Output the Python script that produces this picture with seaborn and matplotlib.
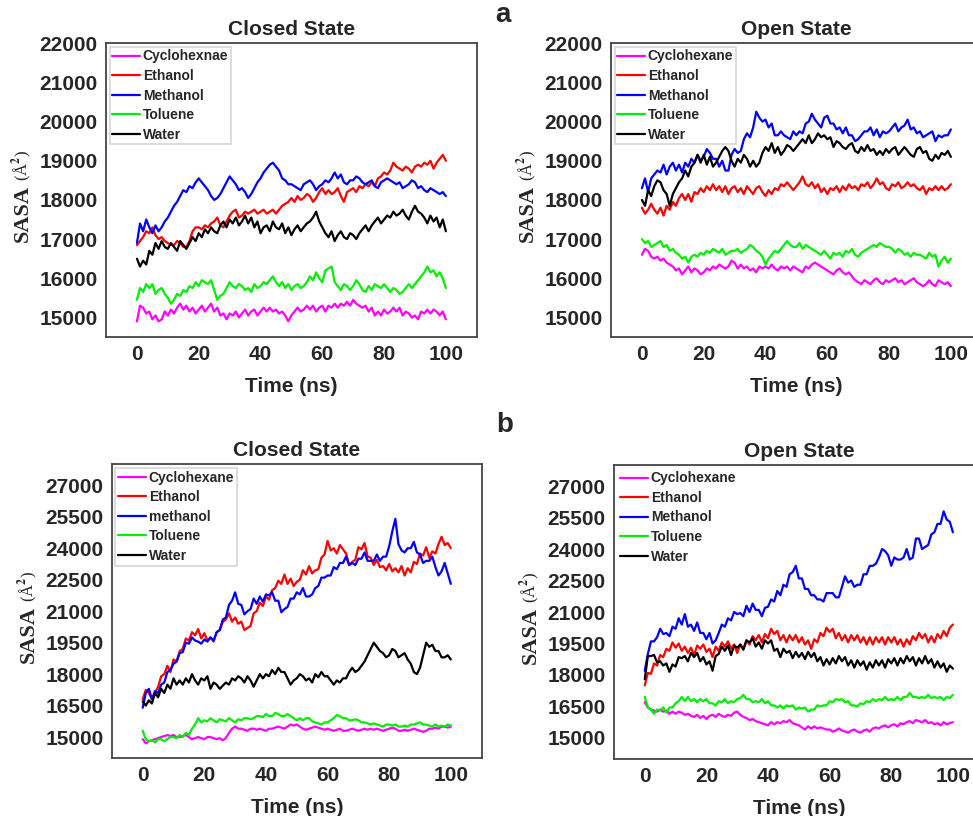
import pandas as pd
import seaborn as sns
import matplotlib.pyplot as plt

# time axis, 1 ns sampling
time_ns = list(range(101))

colors = ['#ff00ff', '#ff0000', '#0000ff', '#00ee00', '#000000']

# ---- panel a, closed state (Å^2) ----
a_closed_cyc = [14900, 15300, 15250, 15100, 15150, 14950, 15050, 14900, 14950, 15150,
                15050, 15200, 15100, 15250, 15350, 15200, 15300, 15150, 15250, 15100,
                15200, 15300, 15150, 15250, 15350, 15150, 15250, 15050, 15100, 14950,
                15100, 15050, 15150, 15000, 15100, 15200, 15050, 15150, 15200, 15050,
                15150, 15250, 15150, 15250, 15150, 15200, 15100, 15150, 15050, 14900,
                15050, 15150, 15250, 15150, 15200, 15300, 15200, 15300, 15150, 15250,
                15300, 15150, 15300, 15250, 15350, 15250, 15350, 15300, 15400, 15300,
                15450, 15350, 15300, 15250, 15300, 15150, 15250, 15050, 15150, 15050,
                15200, 15100, 15150, 15250, 15150, 15250, 15050, 15150, 15100, 15000,
                15050, 14950, 15150, 15100, 15200, 15100, 15200, 15150, 15050, 15150,
                14950]
a_closed_eth = [16850, 16950, 17050, 17200, 17150, 17300, 17100, 17000, 17050, 16950,
                16900, 16850, 16850, 16950, 16900, 16800, 16800, 16950, 17200, 17300,
                17300, 17250, 17350, 17300, 17400, 17450, 17550, 17350, 17300, 17450,
                17600, 17700, 17750, 17550, 17600, 17700, 17650, 17700, 17750, 17650,
                17700, 17750, 17650, 17700, 17750, 17650, 17750, 17850, 17900, 17950,
                18050, 17950, 18100, 18000, 18050, 18150, 18100, 17950, 18050, 18200,
                18300, 18150, 18250, 18150, 18200, 18300, 18100, 17950, 18200, 18250,
                18300, 18200, 18350, 18300, 18400, 18350, 18450, 18350, 18550, 18600,
                18700, 18650, 18750, 18950, 18850, 18800, 18750, 18850, 18800, 18700,
                18850, 18900, 18850, 18950, 18900, 19000, 18800, 18950, 19050, 19150,
                19000]
a_closed_met = [16900, 17400, 17200, 17500, 17300, 17150, 17350, 17200, 17300, 17450,
                17550, 17700, 17850, 17950, 18100, 18250, 18200, 18350, 18300, 18450,
                18550, 18450, 18350, 18250, 18100, 18000, 18050, 18150, 18300, 18450,
                18600, 18500, 18400, 18250, 18300, 18200, 18050, 18150, 18300, 18450,
                18550, 18700, 18800, 18900, 18950, 18850, 18750, 18550, 18500, 18400,
                18400, 18350, 18300, 18250, 18400, 18450, 18500, 18400, 18250, 18350,
                18400, 18500, 18450, 18550, 18700, 18550, 18650, 18450, 18400, 18500,
                18500, 18600, 18550, 18450, 18400, 18450, 18500, 18350, 18300, 18450,
                18500, 18550, 18500, 18450, 18400, 18450, 18300, 18350, 18400, 18500,
                18450, 18300, 18350, 18250, 18200, 18300, 18250, 18200, 18150, 18200,
                18100]
a_closed_tol = [15450, 15750, 15650, 15850, 15750, 15850, 15600, 15700, 15750, 15600,
                15500, 15350, 15450, 15600, 15550, 15700, 15650, 15800, 15750, 15900,
                15800, 15950, 15900, 15850, 15950, 15700, 15450, 15550, 15600, 15750,
                15900, 15800, 15750, 15850, 15800, 15700, 15750, 15650, 15850, 15750,
                15800, 15900, 15850, 15950, 16050, 15900, 15800, 15900, 15750, 15850,
                15700, 15800, 15850, 15750, 15800, 15900, 16050, 15950, 16150, 16000,
                15900, 16200, 16250, 16300, 15900, 15800, 15700, 15850, 15800, 15700,
                15800, 15950, 15850, 15700, 15650, 15800, 15700, 15850, 15800, 15750,
                15850, 15750, 15650, 15750, 15700, 15600, 15650, 15750, 15850, 15750,
                15850, 15950, 16050, 16150, 16300, 16150, 16200, 16050, 16150, 16000,
                15750]
a_closed_wat = [16500, 16300, 16450, 16350, 16700, 16600, 16900, 16750, 16950, 16800,
                16750, 16900, 16800, 16700, 16950, 16850, 16750, 16900, 17050, 16950,
                17150, 17050, 17250, 17150, 17300, 17200, 17150, 17350, 17450, 17300,
                17500, 17400, 17550, 17350, 17450, 17600, 17400, 17550, 17300, 17450,
                17150, 17300, 17350, 17200, 17450, 17300, 17250, 17400, 17150, 17300,
                17100, 17250, 17350, 17200, 17300, 17400, 17450, 17550, 17700, 17450,
                17300, 17150, 17050, 17200, 16950, 17100, 17200, 17050, 17000, 17150,
                17100, 17000, 17150, 17250, 17350, 17200, 17350, 17450, 17550, 17400,
                17500, 17600, 17550, 17700, 17600, 17650, 17750, 17600, 17500, 17700,
                17850, 17700, 17650, 17550, 17400, 17600, 17450, 17550, 17300, 17500,
                17200]

# ---- panel a, open state ----
a_open_cyc = [16600, 16750, 16700, 16550, 16500, 16550, 16450, 16500, 16400, 16350,
              16300, 16200, 16250, 16100, 16200, 16300, 16150, 16250, 16200, 16100,
              16150, 16250, 16200, 16300, 16250, 16350, 16300, 16250, 16300, 16450,
              16400, 16250, 16350, 16250, 16300, 16200, 16250, 16150, 16300, 16250,
              16300, 16250, 16350, 16250, 16200, 16300, 16250, 16300, 16200, 16300,
              16250, 16200, 16150, 16300, 16250, 16350, 16400, 16350, 16300, 16250,
              16200, 16150, 16100, 16200, 16250, 16150, 16100, 16150, 16050, 15950,
              15900, 15850, 15950, 15900, 15850, 15950, 16000, 15900, 15850, 15950,
              15900, 15950, 16000, 15900, 15950, 15850, 15900, 15950, 16000, 15900,
              15850, 15800, 15850, 15950, 15850, 15800, 15950, 15900, 15850, 15900,
              15800]
a_open_eth = [17800, 17650, 17750, 17900, 17750, 17650, 17800, 17600, 17850, 17750,
              17950, 17850, 18050, 18150, 18000, 18150, 17950, 18200, 18150, 18300,
              18200, 18350, 18250, 18400, 18250, 18350, 18200, 18350, 18150, 18300,
              18350, 18200, 18300, 18150, 18350, 18250, 18150, 18300, 18350, 18200,
              18100, 18250, 18150, 18300, 18250, 18400, 18350, 18450, 18350, 18250,
              18350, 18450, 18600, 18400, 18350, 18450, 18300, 18400, 18200, 18300,
              18150, 18300, 18250, 18350, 18200, 18350, 18250, 18400, 18300, 18350,
              18250, 18400, 18350, 18450, 18300, 18400, 18550, 18400, 18450, 18300,
              18250, 18400, 18350, 18450, 18300, 18350, 18450, 18350, 18400, 18300,
              18250, 18350, 18150, 18300, 18250, 18350, 18250, 18350, 18250, 18300,
              18400]
a_open_met = [18300, 18550, 18200, 18550, 18650, 18750, 18700, 18900, 18650, 18850,
              18950, 18750, 18900, 18700, 18950, 18850, 19050, 18950, 19150, 19000,
              19100, 19300, 19200, 19050, 19050, 18850, 19000, 18750, 18750, 19150,
              19300, 19200, 19250, 19550, 19700, 19600, 19850, 20250, 20100, 20000,
              20050, 19850, 19950, 19650, 19650, 19750, 19650, 19600, 19550, 19750,
              19650, 19750, 19700, 19950, 20000, 20200, 20050, 19950, 19850, 20100,
              20150, 19950, 19950, 19800, 19850, 19700, 19850, 19650, 19650, 19500,
              19550, 19650, 19750, 19750, 19850, 19650, 19800, 19600, 19750, 19700,
              19750, 19850, 19950, 19750, 19850, 19900, 20050, 19800, 19850, 19700,
              19750, 19600, 19650, 19700, 19750, 19500, 19650, 19600, 19650, 19650,
              19800]
a_open_tol = [17000, 16900, 16950, 16800, 16850, 16900, 16950, 16800, 16850, 16700,
              16750, 16650, 16600, 16500, 16550, 16400, 16550, 16600, 16550, 16650,
              16600, 16700, 16650, 16750, 16700, 16650, 16750, 16600, 16650, 16700,
              16700, 16750, 16650, 16700, 16750, 16850, 16800, 16700, 16650, 16550,
              16350, 16500, 16600, 16700, 16650, 16750, 16850, 16950, 16850, 16800,
              16800, 16900, 16750, 16850, 16800, 16750, 16700, 16650, 16600, 16700,
              16600, 16500, 16650, 16600, 16650, 16550, 16700, 16650, 16750, 16600,
              16550, 16650, 16700, 16750, 16800, 16850, 16800, 16900, 16850, 16800,
              16800, 16750, 16650, 16750, 16700, 16600, 16650, 16550, 16650, 16600,
              16600, 16550, 16500, 16650, 16550, 16600, 16300, 16450, 16550, 16400,
              16500]
a_open_wat = [18000, 17850, 18250, 18100, 18350, 18500, 18450, 18250, 18150, 17850,
              18150, 18300, 18450, 18550, 18750, 18600, 18850, 18950, 19150, 18950,
              19150, 18900, 19100, 18850, 18950, 19100, 19250, 19350, 19250, 19000,
              18850, 19050, 18950, 19150, 19050, 18850, 19000, 18850, 18950, 19200,
              19350, 19250, 19450, 19200, 19350, 19150, 19250, 19400, 19350, 19250,
              19350, 19450, 19550, 19450, 19650, 19450, 19550, 19700, 19600, 19650,
              19550, 19600, 19350, 19500, 19450, 19350, 19300, 19400, 19450, 19250,
              19200, 19350, 19250, 19400, 19250, 19300, 19150, 19250, 19150, 19300,
              19200, 19300, 19350, 19150, 19250, 19350, 19250, 19150, 19100, 19300,
              19350, 19200, 19250, 19050, 19000, 19150, 19050, 19200, 19150, 19250,
              19100]

# ---- panel b, closed state ----
b_closed_cyc = [14900, 14700, 14800, 14850, 14900, 14950, 15000, 15050, 15100, 15050,
                15100, 15000, 15000, 15050, 15100, 15000, 14900, 14950, 15000, 14950,
                14900, 15000, 15000, 14950, 14900, 14950, 14850, 14950, 15200, 15400,
                15500, 15400, 15400, 15350, 15300, 15400, 15400, 15350, 15400, 15350,
                15300, 15400, 15400, 15450, 15500, 15450, 15400, 15500, 15600, 15550,
                15600, 15500, 15400, 15350, 15400, 15450, 15500, 15450, 15400, 15350,
                15400, 15350, 15300, 15350, 15400, 15300, 15300, 15350, 15400, 15350,
                15300, 15350, 15400, 15350, 15400, 15350, 15400, 15350, 15300, 15350,
                15400, 15450, 15400, 15300, 15300, 15350, 15300, 15350, 15400, 15350,
                15300, 15250, 15300, 15400, 15400, 15450, 15400, 15500, 15500, 15450,
                15500]
b_closed_eth = [16800, 17250, 17100, 16800, 17100, 17400, 17900, 18000, 18400, 18100,
                18700, 18600, 19100, 19200, 19700, 19600, 20000, 19850, 20150, 19700,
                19950, 19600, 19750, 19550, 20000, 20100, 20500, 20600, 20900, 20500,
                20700, 20400, 20500, 20100, 20200, 20300, 20900, 21000, 21400, 21250,
                21700, 21550, 22000, 22100, 22450, 22300, 22750, 22300, 22550, 22200,
                22400, 22500, 22950, 22750, 23150, 22800, 22950, 23000, 23550, 23700,
                24350, 23900, 24000, 23750, 24150, 23950, 23750, 23200, 23350, 23450,
                24050, 23950, 24250, 23600, 23550, 23200, 23450, 23100, 23150, 22950,
                23250, 22900, 23050, 22850, 23150, 22700, 23050, 22850, 23350, 23250,
                23750, 23650, 24050, 23550, 23850, 23750, 24200, 24550, 24150, 24250,
                24000]
b_closed_met = [16400, 17100, 17300, 16800, 17200, 17100, 17500, 17600, 18100, 18200,
                18500, 18600, 19000, 19050, 19500, 19450, 19750, 19600, 19550, 19450,
                19650, 19550, 19750, 19600, 20000, 20100, 20600, 20700, 21300, 21500,
                21900, 21350, 21300, 20850, 21000, 21100, 21600, 21350, 21700, 21450,
                21800, 21750, 21900, 21500, 21500, 20950, 21100, 21200, 21600, 21600,
                21900, 21800, 22100, 21700, 21700, 21800, 22100, 22200, 22600, 22600,
                22700, 22700, 23100, 23000, 23300, 23300, 23600, 23200, 23300, 23200,
                23500, 23500, 23800, 23400, 23400, 23400, 23700, 23400, 23600, 23600,
                24100, 24800, 25400, 24200, 23900, 23800, 24000, 24000, 24300, 23800,
                23700, 23300, 23400, 23400, 23600, 23100, 22700, 22900, 23300, 22800,
                22300]
b_closed_tol = [15300, 14900, 14800, 14850, 14750, 14900, 14900, 14800, 14900, 15000,
                15000, 14950, 15100, 15000, 15200, 15100, 15400, 15600, 15900, 15700,
                15800, 15750, 15900, 15800, 15700, 15850, 15800, 15750, 15900, 15800,
                15700, 15850, 15800, 15900, 15900, 15850, 15900, 16000, 16000, 15950,
                16100, 16000, 16000, 16150, 16100, 16000, 16000, 16100, 16000, 15900,
                15800, 15900, 15800, 15900, 15900, 15750, 15700, 15650, 15600, 15700,
                15700, 15800, 15900, 16050, 16000, 15900, 15900, 15800, 15800, 15850,
                15800, 15700, 15700, 15650, 15600, 15650, 15600, 15550, 15500, 15600,
                15600, 15550, 15600, 15500, 15500, 15550, 15500, 15600, 15600, 15650,
                15700, 15600, 15600, 15550, 15500, 15600, 15500, 15550, 15500, 15600,
                15550]
b_closed_wat = [16700, 16500, 16750, 16600, 17100, 16900, 17300, 17100, 17500, 17300,
                17800, 17500, 17700, 17500, 17800, 17600, 18000, 17700, 17500, 17800,
                17700, 17900, 17300, 17600, 17500, 17300, 17450, 17600, 17500, 17800,
                17700, 17900, 17800, 17600, 17900, 17700, 17400, 17700, 18000, 17800,
                18000, 17900, 18200, 18000, 18300, 18100, 18100, 17800, 17500, 17700,
                17800, 18000, 17900, 17700, 17800, 17600, 18000, 17850, 18100, 17900,
                17900, 17700, 17500, 17700, 17600, 17800, 17800, 18100, 18300, 18100,
                18200, 18400, 18600, 18900, 19200, 19500, 19300, 19100, 19000, 18800,
                18900, 19200, 19100, 18800, 18900, 19000, 18700, 18500, 18100, 18000,
                18300, 18900, 19500, 19300, 19400, 19100, 19100, 18800, 18800, 18900,
                18700]

# ---- panel b, open state ----
b_open_cyc = [16700, 16450, 16350, 16300, 16250, 16350, 16250, 16300, 16150, 16250,
              16150, 16250, 16200, 16100, 16150, 16050, 16000, 16100, 15950, 16050,
              15900, 16050, 16100, 16000, 16150, 16050, 16000, 16100, 16050, 16200,
              16250, 16100, 16000, 15950, 15850, 15900, 15800, 15750, 15700, 15650,
              15600, 15750, 15650, 15750, 15700, 15800, 15750, 15850, 15700, 15650,
              15600, 15500, 15400, 15550, 15450, 15550, 15450, 15500, 15450, 15400,
              15400, 15300, 15350, 15450, 15350, 15300, 15250, 15350, 15400, 15300,
              15250, 15350, 15400, 15300, 15450, 15500, 15450, 15550, 15600, 15500,
              15600, 15650, 15550, 15700, 15650, 15750, 15800, 15700, 15850, 15800,
              15750, 15850, 15700, 15750, 15650, 15700, 15600, 15750, 15650, 15700,
              15750]
b_open_eth = [17500, 18100, 18050, 18550, 18450, 18950, 18850, 19250, 19150, 19550,
              19300, 19500, 19150, 19350, 19050, 19300, 18950, 19400, 19250, 19450,
              19100, 19250, 18850, 19350, 19150, 19550, 19350, 19600, 19250, 19450,
              19050, 19450, 19250, 19650, 19450, 19850, 19650, 19900, 19550, 19950,
              19750, 20200, 19950, 20100, 19650, 19900, 19550, 19900, 19650, 19900,
              19550, 19800, 19450, 19650, 19250, 19700, 19550, 20000, 19850, 20250,
              20050, 20200, 19750, 20000, 19650, 19900, 19550, 19900, 19650, 19900,
              19550, 19800, 19450, 19800, 19450, 19800, 19550, 19800, 19450, 19800,
              19550, 19800, 19450, 19700, 19350, 19700, 19450, 19850, 19650, 20000,
              19750, 19950, 19550, 19850, 19550, 19950, 19750, 20100, 19850, 20250,
              20400]
b_open_met = [18200, 19000, 19600, 19600, 19800, 20200, 19950, 20000, 19850, 20300,
              20200, 20700, 20400, 20900, 20300, 20400, 20100, 20500, 20000, 20000,
              19700, 20000, 19500, 19650, 20000, 20400, 20300, 20700, 20600, 21000,
              20900, 20950, 20800, 21300, 21000, 21400, 21100, 21100, 20800, 21200,
              21250, 21600, 21500, 22000, 21800, 22300, 22200, 22800, 22900, 23200,
              22600, 22600, 22100, 22100, 21800, 21800, 21600, 21600, 21500, 21900,
              21900, 21900, 21700, 21700, 22200, 22700, 22400, 22500, 22200, 22300,
              22300, 22800, 22800, 23200, 23200, 23300, 23600, 24000, 23900, 23700,
              23200, 23600, 23500, 23500, 23600, 24000, 23500, 23600, 24500, 24500,
              24000, 24100, 24200, 24700, 24800, 25200, 25200, 25800, 25400, 25300,
              24800]
b_open_tol = [16950, 16450, 16350, 16150, 16350, 16300, 16450, 16200, 16450, 16450,
              16650, 16750, 16950, 16750, 16950, 16750, 16850, 16700, 16850, 16750,
              16850, 16650, 16650, 16550, 16750, 16700, 16850, 16650, 16750, 16700,
              16850, 16900, 17050, 16850, 16850, 16700, 16750, 16700, 16850, 16650,
              16750, 16550, 16550, 16450, 16550, 16400, 16550, 16500, 16550, 16350,
              16450, 16400, 16450, 16250, 16350, 16350, 16550, 16500, 16550, 16550,
              16750, 16700, 16850, 16800, 16850, 16700, 16750, 16550, 16550, 16500,
              16650, 16600, 16750, 16700, 16850, 16750, 16850, 16800, 16950, 16800,
              16850, 16800, 16950, 16800, 16950, 16950, 17150, 16950, 16950, 16900,
              16950, 16900, 17050, 16900, 16950, 16900, 16950, 16800, 16950, 16900,
              17050]
b_open_wat = [17800, 18900, 18900, 18950, 18600, 18650, 18450, 18550, 18150, 18500,
              18400, 18850, 18800, 18900, 18650, 19050, 18850, 19050, 18650, 18850,
              18500, 18650, 18200, 18900, 19000, 19350, 19150, 19400, 18950, 19400,
              19300, 19450, 19200, 19650, 19550, 19750, 19350, 19550, 19250, 19650,
              19500, 19650, 19150, 19250, 18850, 19250, 19050, 19150, 18800, 19100,
              18850, 19050, 18750, 19100, 18850, 19050, 18650, 18850, 18450, 18750,
              18500, 18800, 18550, 18900, 18650, 18850, 18450, 18700, 18350, 18700,
              18450, 18650, 18250, 18600, 18350, 18700, 18450, 18700, 18350, 18750,
              18550, 18800, 18450, 18800, 18550, 18900, 18650, 18850, 18450, 18800,
              18550, 18900, 18550, 18750, 18350, 18650, 18350, 18550, 18150, 18450,
              18300]

a_closed_labels = ['Cyclohexnae', 'Ethanol', 'Methanol', 'Toluene', 'Water']
a_open_labels = ['Cyclohexane', 'Ethanol', 'Methanol', 'Toluene', 'Water']
b_closed_labels = ['Cyclohexane', 'Ethanol', 'methanol', 'Toluene', 'Water']
b_open_labels = ['Cyclohexane', 'Ethanol', 'Methanol', 'Toluene', 'Water']

top_yticks = [15000, 16000, 17000, 18000, 19000, 20000, 21000, 22000]
bottom_yticks = [15000, 16500, 18000, 19500, 21000, 22500, 24000, 25500, 27000]
xticks = [0, 20, 40, 60, 80, 100]

sns.set_style('white')
plt.rcParams['font.family'] = ['Liberation Sans', 'DejaVu Sans']
plt.rcParams['font.weight'] = 'bold'
plt.rcParams['mathtext.fontset'] = 'stix'

serif = ['Liberation Serif', 'DejaVu Serif']

fig = plt.figure(figsize=(9.73, 8.16), dpi=100)

panels = [
    ([0.109, 0.587, 0.381, 0.360], 'Closed State', a_closed_labels,
     [a_closed_cyc, a_closed_eth, a_closed_met, a_closed_tol, a_closed_wat],
     (14500, 22000), top_yticks, True),
    ([0.628, 0.587, 0.381, 0.360], 'Open State', a_open_labels,
     [a_open_cyc, a_open_eth, a_open_met, a_open_tol, a_open_wat],
     (14500, 22000), top_yticks, True),
    ([0.115, 0.071, 0.380, 0.360], 'Closed State', b_closed_labels,
     [b_closed_cyc, b_closed_eth, b_closed_met, b_closed_tol, b_closed_wat],
     (14000, 28000), bottom_yticks, True),
    ([0.631, 0.070, 0.380, 0.360], 'Open State', b_open_labels,
     [b_open_cyc, b_open_eth, b_open_met, b_open_tol, b_open_wat],
     (14000, 28000), bottom_yticks, False),
]

for rect, title, labels, series, ylim, yticks, framed in panels:
    ax = fig.add_axes(rect)
    df = pd.DataFrame({'Time': time_ns})
    for lab, vals in zip(labels, series):
        df[lab] = vals
    long = df.melt(id_vars='Time', var_name='Solvent', value_name='SASA')
    sns.lineplot(data=long, x='Time', y='SASA', hue='Solvent', hue_order=labels,
                 palette=colors, linewidth=1.6, estimator=None, ax=ax)
    ax.set_xlim(-10, 110)
    ax.set_ylim(*ylim)
    ax.set_xticks(xticks)
    ax.set_yticks(yticks)
    ax.tick_params(length=0, labelsize=15, pad=6)
    for lbl in ax.get_xticklabels() + ax.get_yticklabels():
        lbl.set_fontweight('bold')
    for sp in ax.spines.values():
        sp.set_color('#444444')
        sp.set_linewidth(1.3)
    ax.set_title(title, fontsize=15, fontweight='bold', pad=6)
    ax.set_xlabel('Time (ns)', fontsize=15, fontweight='bold', labelpad=9)
    # "SASA" in bold serif, unit in a smaller regular serif just above it
    ax.set_ylabel('SASA', fontsize=16, fontweight='bold', family=serif, labelpad=5)
    ax.yaxis.label.set_y(0.42)
    ax.annotate('(Å$^2$)', xy=(0.5, 1.0), xycoords=ax.yaxis.label,
                xytext=(0, 3), textcoords='offset points', rotation=90,
                ha='center', va='bottom', fontsize=12, fontweight='normal',
                family=serif)
    handles, hl = ax.get_legend_handles_labels()
    leg = ax.legend(handles, hl, loc='upper left', fontsize=10, frameon=True,
                    fancybox=False, borderaxespad=0.25, handlelength=2.0,
                    handletextpad=0.2, labelspacing=0.4, borderpad=0.2)
    for t in leg.get_texts():
        t.set_fontweight('bold')
    leg.get_frame().set_edgecolor('#cccccc' if framed else 'none')
    leg.get_frame().set_linewidth(1.2)

fig.text(0.517, 0.982, 'a', fontsize=20, fontweight='bold', va='center', ha='center')
fig.text(0.519, 0.479, 'b', fontsize=20, fontweight='bold', va='center', ha='center')

fig.savefig('out.png', dpi=100)
